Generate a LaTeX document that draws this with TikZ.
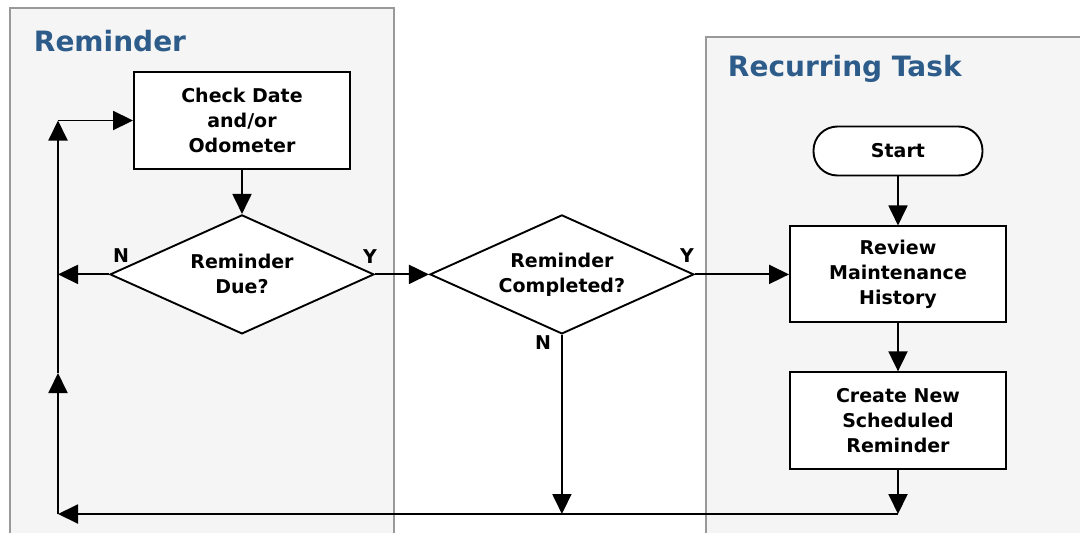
\documentclass[tikz,border=0pt]{standalone}
\usepackage{fontspec}
\setmainfont{DejaVu Sans}
\usetikzlibrary{positioning,shapes.geometric,arrows.meta}
\definecolor{lanefill}{HTML}{F5F5F5}
\definecolor{laneline}{HTML}{999999}
\definecolor{titleblue}{HTML}{2E5C8A}

\begin{document}
\begin{tikzpicture}[x=1pt, y=-1pt, line width=1.9pt,
  every node/.style={font=\fontsize{19}{25}\selectfont\bfseries},
  >={Triangle[length=20pt,width=19pt]},
  procbox/.style={draw, fill=white, minimum width=216pt, minimum height=97pt, align=center, inner sep=0pt},
  decision/.style={draw, fill=white, diamond, aspect=2.2, minimum width=264pt, minimum height=119pt, align=center, inner sep=0pt},
  terminal/.style={draw, fill=white, rounded corners=24pt, minimum width=169pt, minimum height=49pt, inner sep=0pt},
  lanetitle/.style={font=\fontsize{28}{34}\selectfont\bfseries, text=titleblue, anchor=west, inner sep=0pt},
  flag/.style={inner sep=0pt}]
  \clip (0,0) rectangle (1080,533);
  \fill[white] (0,0) rectangle (1080,533);
  % swim lanes
  \draw[laneline, fill=lanefill, line width=1.6pt] (10,8) rectangle (394,560);
  \draw[laneline, fill=lanefill, line width=1.6pt] (706,37) rectangle (1100,560);
  \node[lanetitle] (remtitle) at (33,41) {Reminder};
  \node[lanetitle] (rectitle) at (727,69) {Recurring Task};
  % reminder lane
  \node[procbox] (check) at (242,120.5) {Check Date\\and/or\\Odometer};
  \node[decision, below=44pt of check] (due) {Reminder\\Due?};
  \node[decision, right=54pt of due] (done) {Reminder\\Completed?};
  % recurring task lane
  \node[terminal] (start) at (898,151) {Start};
  \node[procbox, minimum height=96pt, below=49pt of start] (review) {Review\\Maintenance\\History};
  \node[procbox, below=48pt of review] (create) {Create New\\Scheduled\\Reminder};
  % loop points
  \coordinate (retB) at (898,514);
  \coordinate (loopBL) at (58,514);
  \coordinate (loopMid) at (58,373);
  \coordinate (loopTL) at (58,120.5);
  % flags
  \node[flag] (dueN) at (121,256) {N};
  \node[flag] (dueY) at (370,257) {Y};
  \node[flag] (doneY) at (687,256) {Y};
  \node[flag] (doneN) at (543,343) {N};
  % connectors
  \draw[->] (check) -- (due);
  \draw[->] (due) -- (done);
  \draw[->] (due.west) -- (due.west -| loopBL);
  \draw[->] (done.east) -- (done.east -| review.west);
  \draw[->] (done.south) -- (done.south |- retB);
  \draw[->] (start) -- (review);
  \draw[->] (review) -- (create);
  \draw[->] (create) -- (retB);
  \draw[->] (retB) -- (loopBL);
  \draw[->] (loopBL) -- (loopMid);
  \draw[->] (loopMid) -- (loopTL);
  \draw[->] (loopTL) -- (check);
\end{tikzpicture}
\end{document}
